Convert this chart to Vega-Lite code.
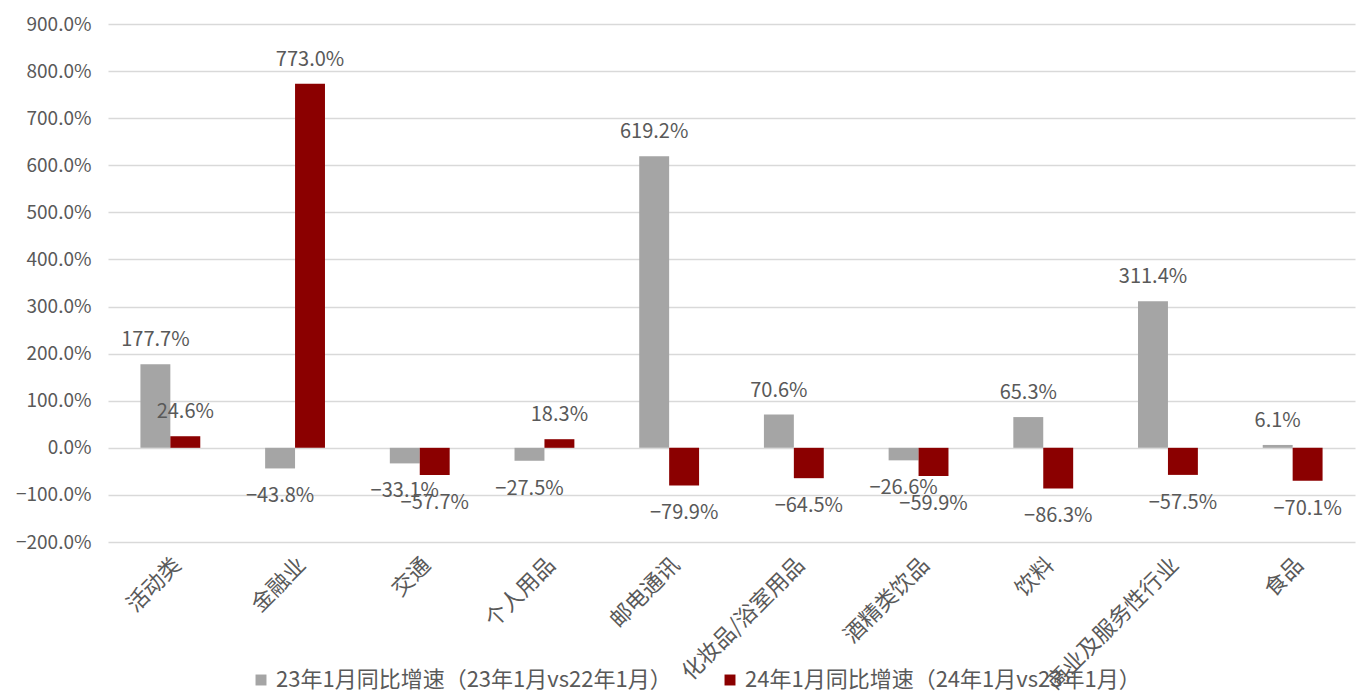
{
  "$schema": "https://vega.github.io/schema/vega-lite/v6.json",
  "width": 1247,
  "height": 518,
  "autosize": {"type": "none"},
  "padding": {"left": 108, "top": 24, "right": 5, "bottom": 151},
  "background": "white",
  "config": {
    "font": "Noto Sans CJK SC",
    "view": {"stroke": null},
    "axis": {"labelColor": "#595959", "labelFont": "Noto Sans CJK SC"}
  },
  "data": {
    "values": [
      {"cat": "活动类", "series": "23年1月同比增速（23年1月vs22年1月）", "v": 1.777},
      {"cat": "活动类", "series": "24年1月同比增速（24年1月vs23年1月）", "v": 0.246},
      {"cat": "金融业", "series": "23年1月同比增速（23年1月vs22年1月）", "v": -0.438},
      {"cat": "金融业", "series": "24年1月同比增速（24年1月vs23年1月）", "v": 7.73},
      {"cat": "交通", "series": "23年1月同比增速（23年1月vs22年1月）", "v": -0.331},
      {"cat": "交通", "series": "24年1月同比增速（24年1月vs23年1月）", "v": -0.577},
      {"cat": "个人用品", "series": "23年1月同比增速（23年1月vs22年1月）", "v": -0.275},
      {"cat": "个人用品", "series": "24年1月同比增速（24年1月vs23年1月）", "v": 0.183},
      {"cat": "邮电通讯", "series": "23年1月同比增速（23年1月vs22年1月）", "v": 6.192},
      {"cat": "邮电通讯", "series": "24年1月同比增速（24年1月vs23年1月）", "v": -0.799},
      {"cat": "化妆品/浴室用品", "series": "23年1月同比增速（23年1月vs22年1月）", "v": 0.706},
      {"cat": "化妆品/浴室用品", "series": "24年1月同比增速（24年1月vs23年1月）", "v": -0.645},
      {"cat": "酒精类饮品", "series": "23年1月同比增速（23年1月vs22年1月）", "v": -0.266},
      {"cat": "酒精类饮品", "series": "24年1月同比增速（24年1月vs23年1月）", "v": -0.599},
      {"cat": "饮料", "series": "23年1月同比增速（23年1月vs22年1月）", "v": 0.653},
      {"cat": "饮料", "series": "24年1月同比增速（24年1月vs23年1月）", "v": -0.863},
      {"cat": "商业及服务性行业", "series": "23年1月同比增速（23年1月vs22年1月）", "v": 3.114},
      {"cat": "商业及服务性行业", "series": "24年1月同比增速（24年1月vs23年1月）", "v": -0.575},
      {"cat": "食品", "series": "23年1月同比增速（23年1月vs22年1月）", "v": 0.061},
      {"cat": "食品", "series": "24年1月同比增速（24年1月vs23年1月）", "v": -0.701}
    ]
  },
  "encoding": {
    "x": {
      "field": "cat", "type": "nominal", "sort": null,
      "scale": {"paddingInner": 0.52, "paddingOuter": 0.26},
      "axis": {"title": null, "labelAngle": -45, "labelFontSize": 22, "domain": false, "ticks": false, "labelPadding": 12, "labelOverlap": false, "labelLimit": 400}
    },
    "xOffset": {"field": "series", "type": "nominal", "scale": {"paddingInner": 0, "paddingOuter": 0}},
    "y": {
      "field": "v", "type": "quantitative",
      "scale": {"domain": [-2, 9], "nice": false, "zero": false},
      "axis": {"title": null, "format": ".1%", "values": [-2, -1, 0, 1, 2, 3, 4, 5, 6, 7, 8, 9], "labelFontSize": 19, "domain": false, "ticks": false, "labelPadding": 17, "gridColor": "#d9d9d9", "gridWidth": 1.5}
    }
  },
  "layer": [
    {
      "mark": {"type": "bar"},
      "encoding": {
        "color": {
          "field": "series", "type": "nominal",
          "scale": {"domain": ["23年1月同比增速（23年1月vs22年1月）", "24年1月同比增速（24年1月vs23年1月）"], "range": ["#a5a5a5", "#8b0000"]},
          "legend": {"title": null, "orient": "none", "legendX": 142, "legendY": 645, "direction": "horizontal", "columns": 2, "symbolType": "square", "symbolSize": 120, "symbolStrokeWidth": 0, "labelFontSize": 22, "labelColor": "#595959", "columnPadding": 47, "labelLimit": 600, "labelOffset": 4}
        }
      }
    },
    {
      "transform": [{"filter": "datum.v >= 0"}],
      "mark": {"type": "text", "baseline": "bottom", "dy": -14, "fontSize": 20, "color": "#595959"},
      "encoding": {"text": {"field": "v", "type": "quantitative", "format": ".1%"}}
    },
    {
      "transform": [{"filter": "datum.v < 0"}],
      "mark": {"type": "text", "baseline": "top", "dy": 18, "fontSize": 20, "color": "#595959"},
      "encoding": {"text": {"field": "v", "type": "quantitative", "format": ".1%"}}
    }
  ]
}
